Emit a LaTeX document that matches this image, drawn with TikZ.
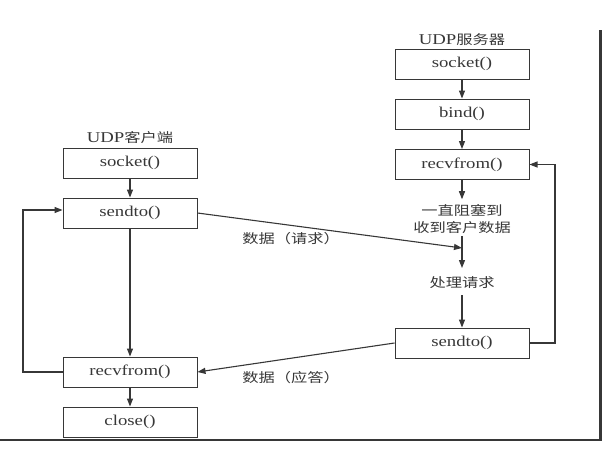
\documentclass[tikz,border=0pt]{standalone}
\usepackage{fontspec}
\usepackage{graphicx}
\setmainfont{Liberation Serif}
\newfontfamily\cjk{Noto Sans CJK SC}
\usetikzlibrary{arrows.meta}
\definecolor{ink}{RGB}{55,55,55}
\newcommand\hs[1]{\scalebox{1.25}[1]{#1}}
\tikzset{
  box/.style={draw=ink, line width=1pt, minimum width=134pt, minimum height=30pt, inner sep=0pt,
    font=\fontsize{15}{17}\selectfont, text=ink},
  lbl/.style={inner sep=0pt, font=\fontsize{15}{17}\selectfont, text=ink},
  zh/.style={inner sep=0pt, font=\fontsize{13}{17}\selectfont\cjk, text=ink, align=center},
  conn/.style={draw=ink, line width=1.1pt},
  arr/.style={conn, -{Triangle[length=8pt,width=6pt]}},
}
\begin{document}
\begin{tikzpicture}[x=1pt,y=-1pt]
\useasboundingbox (0,0) rectangle (613,453);
% titles
\node[lbl] (stitle) at (462,40) {\hs{UDP{\fontsize{13}{17}\cjk 服务器}}};
\node[lbl] (ctitle) at (130,138) {\hs{UDP{\fontsize{13}{17}\cjk 客户端}}};
% server column
\node[box] (ssock) at (462,64) {\hs{socket()}};
\node[box] (sbind) at (462,114) {\hs{bind()}};
\node[box] (srecv) at (462,164.5) {\hs{recvfrom()}};
\node[zh]  (stext) at (462,219) {\hs{一直阻塞到}\\\hs{收到客户数据}};
\coordinate (smid) at (462,248);
\coordinate (sdown) at (462,268);
\node[zh]  (sproc) at (462,283) {\hs{处理请求}};
\node[box] (ssend) at (462,343) {\hs{sendto()}};
\coordinate (sloop) at (555,250);
% client column
\node[box] (csock) at (130,163) {\hs{socket()}};
\node[box] (csend) at (130,213) {\hs{sendto()}};
\node[box] (crecv) at (130,372) {\hs{recvfrom()}};
\node[box] (cclose) at (130,422) {\hs{close()}};
\coordinate (cloop) at (23,300);
% data labels
\node[zh] (req) at (291,239) {\hs{数据（请求）}};
\node[zh] (rsp) at (291,378) {\hs{数据（应答）}};
% server arrows
\draw[arr] (ssock) -- (sbind);
\draw[arr] (sbind) -- (srecv);
\draw[arr] (srecv.south) -- ([yshift=5pt]stext.north);
\draw[arr] ([yshift=-2pt]stext.south) -- (sdown);
\draw[arr] ([yshift=-6pt]sproc.south) -- (ssend.north);
\draw[arr] (ssend.east) -| (sloop) |- (srecv.east);
% client arrows
\draw[arr] (csock) -- (csend);
\draw[arr] (csend) -- (crecv);
\draw[arr] (crecv) -- (cclose);
\draw[arr] (crecv.west) -| (cloop) |- ([yshift=3pt]csend.west);
% messages
\draw[arr] (csend.east) -- (smid);
\draw[arr] (ssend.west) -- (crecv.east);
% frame
\draw[draw=ink, line width=3pt] (600,30) -- (600,441);
\draw[draw=ink, line width=2pt] (0,440) -- (601.5,440);
\end{tikzpicture}
\end{document}
